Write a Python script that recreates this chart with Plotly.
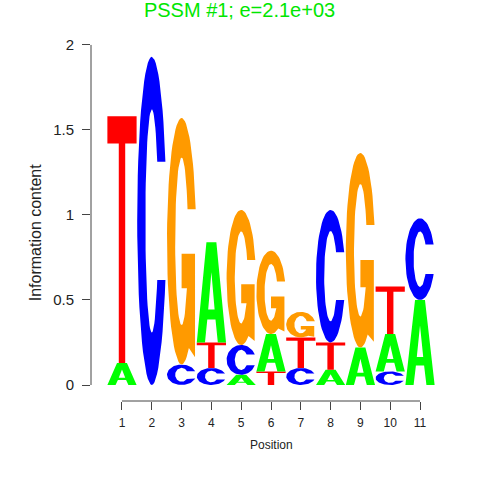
import math
import plotly.graph_objects as go

# sequence logo data (information content, bits)
positions = list(range(1, 12))
a_bits = [0.13, 0.00, 0.00, 0.59, 0.06, 0.22, 0.00, 0.09, 0.22, 0.22, 0.50]
c_bits = [0.00, 1.93, 0.12, 0.10, 0.175, 0.00, 0.10, 0.78, 0.00, 0.08, 0.48]
g_bits = [0.00, 0.00, 1.45, 0.00, 0.795, 0.49, 0.15, 0.00, 1.145, 0.00, 0.00]
t_bits = [1.45, 0.00, 0.00, 0.15, 0.00, 0.08, 0.18, 0.16, 0.00, 0.28, 0.00]
# stacking order, bottom to top
stack_order = ["AT", "C", "CG", "CTA", "ACG", "TAG", "CTG", "ATC", "AG", "CAT", "AC"]

title = "PSSM #1; e=2.1e+03"
colors = {"A": "#00ff00", "C": "#0000ff", "G": "#ff9a00", "T": "#ff0000"}
bits = {"A": a_bits, "C": c_bits, "G": g_bits, "T": t_bits}


def ellipse(rx, ry, a0, a1, n=60):
    pts = []
    for k in range(n + 1):
        a = math.radians(a0 + (a1 - a0) * k / n)
        pts.append((0.5 + rx * math.cos(a), 0.5 + ry * math.sin(a)))
    return pts


def glyph(letter):
    """letter outline in a unit box, None separates contours"""
    if letter == "A":
        outer = [(0, 0), (0.28, 0), (0.36, 0.23), (0.64, 0.23), (0.72, 0), (1, 0),
                 (0.67, 1), (0.33, 1), (0, 0)]
        hole = [(0.39, 0.33), (0.5, 0.70), (0.61, 0.33), (0.39, 0.33)]
        return outer + [None] + hole
    if letter == "T":
        return [(0, 1), (0, 0.89), (0.39, 0.89), (0.39, 0), (0.61, 0), (0.61, 0.89),
                (1, 0.89), (1, 1), (0, 1)]
    if letter == "C":
        ao = math.degrees(math.asin(0.18 / 0.5))
        ai = math.degrees(math.asin(0.18 / 0.34))
        pts = ellipse(0.5, 0.5, ao, 360 - ao) + ellipse(0.22, 0.34, 360 - ai, ai)
        return pts + [pts[0]]
    # G
    ao = math.degrees(math.asin(0.13 / 0.5))
    ai = math.degrees(math.asin(0.13 / 0.34))
    bar_top, bar_bot = 0.45, 0.31
    aj = 360 + math.degrees(math.asin((bar_bot - 0.5) / 0.34))
    xj = 0.5 + 0.22 * math.cos(math.radians(aj))
    pts = ellipse(0.5, 0.5, ao, 300)
    pts += [(0.96, 0.03), (0.96, bar_top), (0.5, bar_top), (0.5, bar_bot), (xj, bar_bot)]
    pts += ellipse(0.22, 0.34, aj, ai)
    return pts + [pts[0]]


fig = go.Figure()
width = 0.98
for i, pos in enumerate(positions):
    base = 0.0
    for letter in stack_order[i]:
        h = bits[letter][i]
        if h <= 0:
            continue
        xs, ys = [], []
        for p in glyph(letter):
            if p is None:
                xs.append(None)
                ys.append(None)
            else:
                xs.append(pos - width / 2 + p[0] * width)
                ys.append(base + p[1] * h)
        fig.add_trace(go.Scatter(
            x=xs, y=ys, mode="lines", fill="toself",
            fillcolor=colors[letter], line=dict(width=0, color=colors[letter]),
            hoverinfo="text", text=f"{letter}: {h:.2f}", showlegend=False
        ))
        base += h

axis_col = "#444444"
fig.update_layout(
    width=480, height=480,
    margin=dict(l=91, r=29, t=30, b=79),
    plot_bgcolor="white", paper_bgcolor="white",
    font=dict(family="Liberation Sans, Arial, sans-serif", color="#222222"),
    title=dict(text=title, x=0.499, xref="container", xanchor="center",
               y=1 - 10 / 480, yanchor="middle",
               font=dict(size=20, color="#00e600")),
    showlegend=False,
)
fig.update_xaxes(
    range=[-0.04, 12.04], showgrid=False, zeroline=False, showline=False,
    tickmode="array", tickvals=positions, ticktext=[str(p) for p in positions],
    ticks="outside", ticklen=8, tickcolor=axis_col, tickfont=dict(size=12),
    ticklabelstandoff=3, fixedrange=True,
)
fig.update_yaxes(
    range=[-0.0941, 2.088], showgrid=False, zeroline=False, showline=False,
    tickmode="array", tickvals=[0, 0.5, 1, 1.5, 2], ticktext=["0", "0.5", "1", "1.5", "2"],
    ticks="outside", ticklen=8, tickcolor=axis_col, tickfont=dict(size=15),
    ticklabelstandoff=5, fixedrange=True,
)
# R-style axis lines that stop at the first and last tick
fig.add_shape(type="line", xref="x", yref="paper", x0=1, x1=11, y0=0, y1=0,
              line=dict(color=axis_col, width=1))
fig.add_shape(type="line", xref="paper", yref="y", x0=0, x1=0, y0=0, y1=2,
              line=dict(color=axis_col, width=1))
fig.add_annotation(text="Position", xref="x", yref="paper", x=6, y=-0.119,
                   showarrow=False, yanchor="middle", font=dict(size=12))
fig.add_annotation(text="Information content", xref="paper", yref="y", x=-0.152, y=0.9,
                   showarrow=False, textangle=-90, xanchor="center", font=dict(size=16))

fig.write_html("out.html", config={"displayModeBar": False},
               post_script="document.body.style.margin = '0';")
